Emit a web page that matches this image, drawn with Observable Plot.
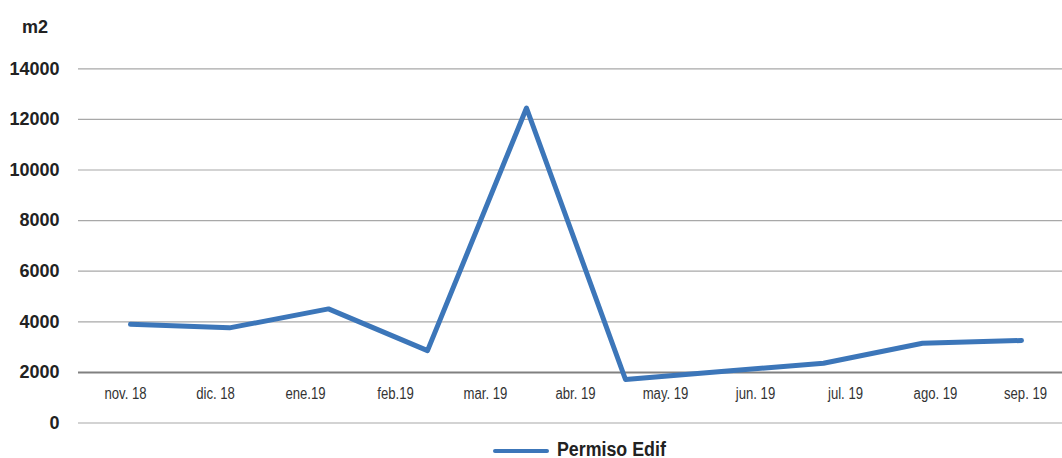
<!DOCTYPE html>
<html><head><meta charset="utf-8">
<script src="https://cdn.jsdelivr.net/npm/d3@7"></script>
<script src="https://cdn.jsdelivr.net/npm/@observablehq/plot@0.6"></script>
<style>
body{margin:0;background:#fff;font-family:"Liberation Sans",Arial,sans-serif;}
#chart{position:relative;width:1062px;height:436px;overflow:hidden;}
#chart svg{position:absolute;left:0;top:0;}
#legend{position:relative;height:22px;}
.sw{position:absolute;left:493px;top:13px;width:56px;height:4px;background:#3c76b9;border-radius:2px}
#lgtext{position:absolute;left:557px;top:4px;line-height:18px;font-size:20px;font-weight:bold;color:#222;white-space:nowrap;transform:scaleX(0.89);transform-origin:left center;}
</style></head><body>
<div id="chart"></div>
<div id="legend"><span class="sw"></span><span id="lgtext"></span></div>
<script>
const months = ["nov. 18","dic. 18","ene.19","feb.19","mar. 19","abr. 19","may. 19","jun. 19","jul. 19","ago. 19","sep. 19"];
const linePeriods = ["nov. 18","dic. 18","ene.19","feb.19","mar. 19","abr. 19","may. 19","jun. 19","jul. 19","ago. 19"];
const values = [3900, 3760, 4510, 2860, 12450, 1720, 2050, 2360, 3150, 3260];
const yTicks = [0, 2000, 4000, 6000, 8000, 10000, 12000, 14000];
const unit = "m2";
const seriesName = "Permiso Edif";
const lineColor = "#3c76b9";

const W = 1062, H = 436;
const xRange = [77.2, 1073.8];
const common = {
  width: W, height: H,
  marginLeft: 78, marginRight: 0, marginTop: 68.3, marginBottom: 13.5,
  y: {domain: [0, 14000]},
  style: {background: "transparent", overflow: "hidden"}
};

const base = Plot.plot({
  ...common,
  x: {type: "band", domain: months, range: xRange, padding: 0, axis: null},
  marks: [
    Plot.ruleY(yTicks, {stroke: d => d === 2000 ? "#808080" : "#a8a8a8", strokeWidth: d => d === 2000 ? 2 : 1.2}),
    Plot.axisY(yTicks, {tickSize: 0, tickPadding: 19, label: null, fontSize: 18, fontWeight: "bold", fill: "#222", tickFormat: d => String(d), fontFamily: "Liberation Sans, Arial, sans-serif"}),
    Plot.text([unit], {frameAnchor: "top-left", dx: -43.5, dy: -41.5, textAnchor: "middle", lineAnchor: "middle", fontSize: 18, fontWeight: "bold", fill: "#222", fontFamily: "Liberation Sans, Arial, sans-serif"}),
    Plot.text(months, {x: d => d, frameAnchor: "bottom", dy: -29, lineAnchor: "middle", fontSize: 16, fill: "#333", fontFamily: "Liberation Sans, sans-serif", className: "xlab"})
  ]
});

const line = Plot.plot({
  ...common,
  x: {type: "point", domain: linePeriods, range: xRange, padding: 0.5, axis: null},
  y: {domain: [0, 14000], axis: null},
  marks: [
    Plot.line(values.map((v, i) => ({period: linePeriods[i], value: v})), {x: "period", y: "value", stroke: lineColor, strokeWidth: 5, strokeLinecap: "round", strokeLinejoin: "round"})
  ]
});

document.getElementById("chart").append(base, line);
document.getElementById("lgtext").textContent = seriesName;
// condense x labels (reference uses a condensed face)
base.querySelectorAll(".xlab text").forEach(t => {
  const len = t.getComputedTextLength();
  t.setAttribute("textLength", (len * 0.82).toFixed(1));
  t.setAttribute("lengthAdjust", "spacingAndGlyphs");
});
</script>
</body></html>
